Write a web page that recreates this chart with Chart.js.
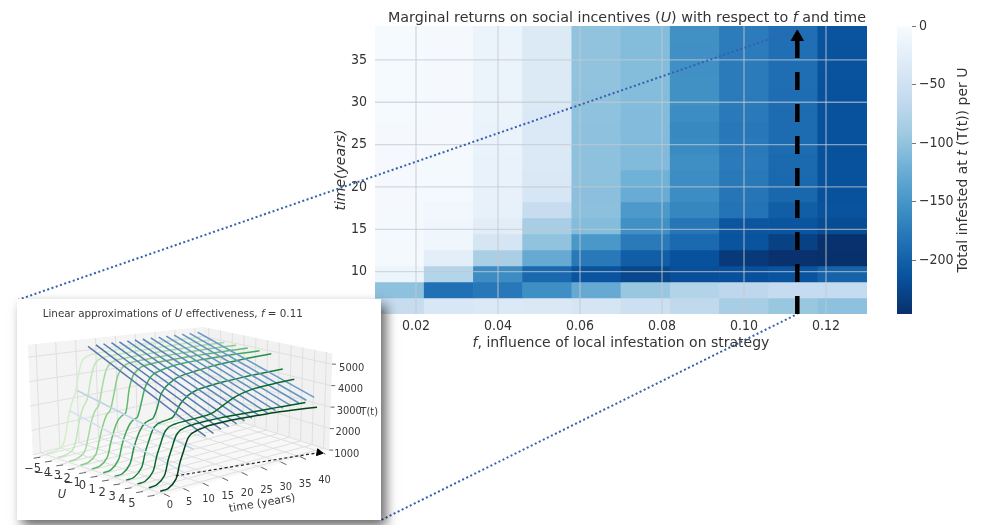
<!DOCTYPE html>
<html><head><meta charset="utf-8">
<script src="https://cdn.jsdelivr.net/npm/chart.js@4"></script>
<style>
html,body{margin:0;padding:0;background:#fff;width:983px;height:525px;overflow:hidden}
canvas{position:absolute;filter:blur(0.45px)}
#main{left:0;top:0}
#cbar{left:870px;top:0}
#inset{left:17px;top:299px;background:#fff;box-shadow:5px 6px 11px rgba(0,0,0,.6)}
</style></head><body>
<canvas id="main" width="983" height="525"></canvas>
<canvas id="cbar" width="113" height="525"></canvas>
<canvas id="inset" width="364" height="221"></canvas>
<script>
// ---------- heatmap data ----------
const fCenters=[0.016,0.028,0.04,0.052,0.064,0.076,0.088,0.1,0.112,0.124];
const tEdges=[5,6.89,8.78,10.67,12.56,14.44,16.33,18.22,20.11,22,23.89,25.78,27.67,29.56,31.44,33.33,35.22,37.11,39];
const row0=[-60,-38,-35,-36,-42,-52,-65,-85,-95,-102];
const row1=[-102,-185,-178,-157,-127,-95,-76,-68,-62,-62];
const row2=[-12,-75,-158,-193,-213,-225,-218,-216,-213,-198];
const row3=[-4,-25,-83,-127,-177,-203,-215,-238,-245,-246];
const row4=[-4,-10,-42,-100,-148,-176,-192,-213,-230,-244];
const row5=[-4,-9,-26,-85,-108,-156,-181,-210,-212,-220];
const row6=[-3,-7,-20,-60,-103,-146,-165,-183,-203,-214];
const row7=[-3,-4,-19,-41,-104,-125,-158,-180,-194,-215];
const row8=[-3,-4,-18,-36,-102,-120,-158,-177,-193,-215];
const row9=[-3,-4,-17,-35,-102,-110,-157,-175,-192,-215];
const row10=[-3,-3,-16,-35,-102,-110,-160,-176,-190,-215];
const row11=[-3,-3,-16,-34,-102,-109,-162,-178,-190,-215];
const row12=[-2,-3,-15,-34,-101,-109,-158,-176,-189,-215];
const row13=[-2,-3,-14,-33,-101,-108,-155,-175,-188,-215];
const row14=[-2,-3,-14,-33,-100,-108,-155,-175,-187,-215];
const row15=[-2,-3,-14,-33,-100,-108,-156,-175,-187,-214];
const row16=[-2,-3,-14,-33,-100,-108,-156,-174,-186,-214];
const row17=[-2,-3,-14,-33,-100,-108,-155,-174,-186,-213];
const heatRows=[row0,row1,row2,row3,row4,row5,row6,row7,row8,row9,row10,row11,row12,row13,row14,row15,row16,row17];
const xTicks=[0.02,0.04,0.06,0.08,0.10,0.12];
const yTicks=[10,15,20,25,30,35];
const colorTicks=[0,-50,-100,-150,-200];
const colorRange=[-246,0];
const arrowF=[0.113,0.113];
const arrowT=[5,37.3];
const arrowTip=[0.113,37.7];
const dottedUpperF=[-0.0772,0.113], dottedUpperT=[6.65,38.6];
const dottedLowerF=[0.0116,0.113], dottedLowerT=[-19.3,5];

// ---------- inset data ----------
const curveTimes=[0,2,4,5,6,7,8,9,10,11,12,13,14,16,18,20,25,30,35,40];
const curveM5=[1040,1050,1150,1500,2300,2900,3300,4100,4650,4800,4860,4880,4900,4920,4940,4960,5000,5040,5060,5080];
const curveM4=[1040,1050,1200,1650,2400,2880,3150,3950,4550,4780,4850,4880,4900,4920,4940,4960,5000,5030,5050,5070];
const curveM3=[1040,1055,1250,1750,2420,2850,3050,3800,4450,4740,4830,4870,4900,4920,4940,4960,5000,5030,5050,5060];
const curveM2=[1040,1060,1300,1850,2420,2820,3000,3650,4350,4650,4800,4850,4880,4910,4930,4950,4990,5020,5040,5050];
const curveM1=[1040,1060,1330,1900,2400,2750,2900,3000,4000,4500,4680,4800,4850,4890,4920,4940,4980,5000,5020,5030];
const curve0=[1040,1070,1400,1980,2420,2720,2880,2950,3500,4100,4420,4600,4680,4780,4850,4900,4960,4990,5010,5020];
const curveP1=[1050,1070,1380,1950,2400,2700,2880,2950,3000,3350,3900,4150,4300,4500,4600,4660,4800,4880,4950,5000];
const curveP2=[1050,1070,1370,1940,2390,2780,2950,3000,3030,3060,3100,3300,3600,3900,4050,4120,4230,4300,4350,4390];
const curveP3=[1050,1070,1360,1930,2380,2790,2960,3020,3050,3070,3080,3090,3100,3120,3150,3250,3700,3920,3990,4030];
const curveP4=[1050,1080,1350,1930,2380,2800,2970,3030,3070,3090,3110,3120,3130,3140,3150,3150,3130,3120,3100,3070];
const curveP5=[1060,1080,1350,1930,2380,2800,2980,3040,3090,3110,3150,3160,3170,3180,3190,3190,3170,3140,3080,3000];
const curveU=[-5,-4,-3,-2,-1,0,1,2,3,4,5];
const curves=[curveM5,curveM4,curveM3,curveM2,curveM1,curve0,curveP1,curveP2,curveP3,curveP4,curveP5];
const lineTimes=[6.4,8.5,11.6,13.6,15.5,17.5,19.5,21.5,23.4,25.4,27.4,29.4,31.3,33.3,35.3,37.2,39.2];
const lineStart=[2600,3400,5250,5280,5290,5300,5300,5300,5310,5310,5320,5320,5330,5330,5340,5340,5350];
const lineEnd=[1500,2350,2750,2800,2900,2950,3000,3050,3100,3130,3180,3220,3270,3310,3360,3420,3480];
const uTicks=[-5,-4,-3,-2,-1,0,1,2,3,4,5];
const timeTicks=[0,5,10,15,20,25,30,35,40];
const tValueTicks=[1000,2000,3000,4000,5000];
const insetArrowU=[3.16,5.45], insetArrowT=[9.4,39.5], insetArrowV=[1000,1000];

const greens=['#d3edcd','#c0e6b9','#a5dba0','#8ace88','#62bb6d','#3fa95c','#289049','#147e3a','#0a6b2d','#005a24','#00441b'];
const blues=['#d2e0ee','#bfd3e6','#5b7bab','#4f74a8','#5079ac','#5280b2','#5280b2','#5684b6','#5684b6','#5a89ba','#5a89ba','#5e8ebe','#5e8ebe','#6292c2','#6292c2','#6596c5','#6b9bc9'];

const FAM='"DejaVu Sans Condensed","DejaVu Sans",sans-serif';
const WIDE='"DejaVu Sans",sans-serif';
const TXT='#333333';
const blueStops=[[0,'247,251,255'],[.125,'222,235,247'],[.25,'198,219,239'],[.375,'158,202,225'],[.5,'107,174,214'],[.625,'66,146,198'],[.75,'33,113,181'],[.875,'8,81,156'],[1,'8,48,107']];
function blueColor(v){
  const t=Math.min(1,Math.max(0,-v/246));
  for(let i=1;i<blueStops.length;i++){
    if(t<=blueStops[i][0]){
      const a=blueStops[i-1],b=blueStops[i],k=(t-a[0])/(b[0]-a[0]);
      const pa=a[1].split(',').map(Number),pb=b[1].split(',').map(Number);
      return 'rgb('+pa.map((c,j)=>Math.round(c+(pb[j]-c)*k)).join(',')+')';
    }
  }
  return 'rgb(8,48,107)';
}
function fmtMinus(v){return v<0?'\u2212'+Math.abs(v):String(v);}
function drawRich(ctx,segs,x,y,size,rot,color,fam){
  const family=fam||WIDE;
  ctx.save();ctx.translate(x,y);ctx.rotate(rot||0);
  ctx.textBaseline='middle';ctx.textAlign='left';ctx.fillStyle=color||TXT;
  let w=0;
  for(const s of segs){ctx.font=(s[1]?'italic ':'')+size+'px '+family;w+=ctx.measureText(s[0]).width;}
  let cx=-w/2;
  for(const s of segs){ctx.font=(s[1]?'italic ':'')+size+'px '+family;ctx.fillText(s[0],cx,0);cx+=ctx.measureText(s[0]).width;}
  ctx.restore();
}

// ---------- main heatmap ----------
const cells=[];const cellColors=[];
heatRows.forEach((r,i)=>r.forEach((v,j)=>{
  cells.push({x:fCenters[j],y:[tEdges[i],tEdges[i+1]]});
  cellColors.push(blueColor(v));
}));
const gridCol='rgba(195,200,206,0.68)';
const mainDatasets=[{type:'bar',data:cells,backgroundColor:cellColors,borderWidth:0,barPercentage:1,categoryPercentage:1,order:5}];
xTicks.forEach(f=>mainDatasets.push({type:'line',data:[{x:f,y:5},{x:f,y:39}],borderColor:gridCol,borderWidth:1.3,pointRadius:0,order:4}));
yTicks.forEach(t=>mainDatasets.push({type:'line',data:[{x:0.01,y:t},{x:0.13,y:t}],borderColor:gridCol,borderWidth:1.3,pointRadius:0,order:4}));
mainDatasets.push({type:'line',data:dottedUpperF.map((f,i)=>({x:f,y:dottedUpperT[i]})),borderColor:'#3460ae',borderWidth:2,borderDash:[2,2.5],pointRadius:0,clip:false,order:2});
mainDatasets.push({type:'line',data:dottedLowerF.map((f,i)=>({x:f,y:dottedLowerT[i]})),borderColor:'#3460ae',borderWidth:2,borderDash:[2,2.5],pointRadius:0,clip:false,order:2});
mainDatasets.push({type:'line',data:arrowF.map((f,i)=>({x:f,y:arrowT[i]})),borderColor:'#000',borderWidth:4.5,borderDash:[18,14],pointRadius:0,clip:false,order:1});
mainDatasets.push({type:'line',data:[{x:arrowTip[0],y:arrowTip[1]}],showLine:false,pointStyle:'triangle',pointRadius:7,pointBackgroundColor:'#000',pointBorderColor:'#000',clip:false,order:1});

new Chart(document.getElementById('main'),{
  type:'bar',
  data:{datasets:mainDatasets},
  options:{
    responsive:false,animation:false,
    layout:{padding:{left:333,top:26,right:116,bottom:167}},
    plugins:{legend:{display:false},tooltip:{enabled:false}},
    scales:{
      x:{type:'linear',min:0.01,max:0.13,offset:false,grid:{display:false,offset:false,tickLength:0},border:{display:false},
        afterBuildTicks:s=>{s.ticks=xTicks.map(v=>({value:v}));},
        afterFit:s=>{s.height=44;},
        ticks:{callback:v=>Number(v).toFixed(2),color:TXT,font:{family:FAM,size:14},padding:4,maxRotation:0,autoSkip:false}},
      y:{type:'linear',min:5,max:39,grid:{display:false,tickLength:0},border:{display:false},
        afterBuildTicks:s=>{s.ticks=yTicks.map(v=>({value:v}));},
        afterFit:s=>{s.width=42;},
        title:{display:true,text:'time(years)',color:TXT,font:{family:WIDE,size:14,style:'italic'},padding:{top:0,bottom:0}},
        ticks:{color:TXT,font:{family:FAM,size:14},padding:8}}
    }
  },
  plugins:[{id:'mainText',afterDraw(c){
    const a=c.chartArea,m=(a.left+a.right)/2;
    drawRich(c.ctx,[['Marginal returns on social incentives (',0],['U',1],[') with respect to ',0],['f',1],[' and time',0]],m+6,18,14.3);
    drawRich(c.ctx,[['f',1],[', influence of local infestation on strategy',0]],m,343,14);
  }}]
});

// ---------- colour bar ----------
new Chart(document.getElementById('cbar'),{
  type:'bar',
  data:{labels:['colour'],datasets:[{data:[colorRange],barPercentage:1,categoryPercentage:1,borderWidth:0,
    backgroundColor(ctx){
      const a=ctx.chart.chartArea;if(!a)return '#6baed6';
      const g=ctx.chart.ctx.createLinearGradient(0,a.top,0,a.bottom);
      blueStops.forEach(s=>g.addColorStop(s[0],'rgb('+s[1]+')'));
      return g;
    }}]},
  options:{
    responsive:false,animation:false,
    layout:{padding:{left:27,top:26,right:0,bottom:211}},
    plugins:{legend:{display:false},tooltip:{enabled:false}},
    scales:{
      x:{display:false},
      y:{position:'right',min:colorRange[0],max:colorRange[1],border:{display:false},
        afterBuildTicks:s=>{s.ticks=colorTicks.map(v=>({value:v}));},
        afterFit:s=>{s.width=71;},
        grid:{drawOnChartArea:false,drawTicks:true,tickLength:4,color:'#777'},
        ticks:{callback:fmtMinus,color:TXT,font:{family:FAM,size:14},padding:3}}
    }
  },
  plugins:[{id:'cbText',afterDraw(c){
    drawRich(c.ctx,[['Total infested at ',0],['t',1],[' (T(t)) per U',0]],93,170,14,-Math.PI/2);
  }}]
});

// ---------- inset pseudo-3D view ----------
const cam={x:[28,157,203,333],y:[457,501,410,452],h:[25.6,28.3,19.3,22.5],lean:[-1.1,0,0,0.7]};
function project(U,t,T){
  const u=(U+5.5)/11,v=(t+2)/44;
  const mix=a=>a[0]*(1-u)*(1-v)+a[1]*u*(1-v)+a[2]*(1-u)*v+a[3]*u*v;
  const k=(T-1000)/1000;
  return {x:mix(cam.x)+mix(cam.lean)*k,y:mix(cam.y)-mix(cam.h)*k};
}
const insetSets=[];
const poly=(pts,fill)=>insetSets.push({data:pts.concat([pts[0]]),fill:'shape',backgroundColor:fill,borderWidth:0,borderColor:fill,pointRadius:0,order:30});
poly([project(-5.5,-2,1000),project(-5.5,42,1000),project(-5.5,42,5500),project(-5.5,-2,5500)],'#f4f4f4');
poly([project(-5.5,42,1000),project(5.5,42,1000),project(5.5,42,5500),project(-5.5,42,5500)],'#f1f1f1');
poly([project(-5.5,-2,1000),project(5.5,-2,1000),project(5.5,42,1000),project(-5.5,42,1000)],'#f8f8f8');
const seg=(a,b)=>insetSets.push({data:[a,b],borderColor:'#e0e0e0',borderWidth:1,pointRadius:0,order:29});
tValueTicks.forEach(T=>{seg(project(-5.5,-2,T),project(-5.5,42,T));seg(project(-5.5,42,T),project(5.5,42,T));});
timeTicks.forEach(t=>{seg(project(-5.5,t,1000),project(-5.5,t,5500));seg(project(-5.5,t,1000),project(5.5,t,1000));});
uTicks.forEach(U=>{seg(project(U,42,1000),project(U,42,5500));seg(project(U,-2,1000),project(U,42,1000));});
const tick=(a,b)=>insetSets.push({data:[a,b],borderColor:'#666',borderWidth:1,pointRadius:0,clip:false,order:28});
uTicks.forEach(U=>{const p=project(U,-2,1000);tick({x:p.x+2,y:p.y+0.5},{x:p.x-5,y:p.y+1.5});});
timeTicks.forEach(t=>{const p=project(5.5,t,1000);tick({x:p.x-2,y:p.y-1},{x:p.x+4,y:p.y+2});});
tValueTicks.forEach(T=>{const p=project(5.5,42,T);tick(p,{x:p.x+4,y:p.y});});
curves.forEach((c,i)=>insetSets.push({
  data:c.map((T,j)=>project(curveU[i],curveTimes[j],T)),
  borderColor:greens[i],borderWidth:1.5,pointRadius:0,tension:0.3,order:i>=8?5:20-i}));
lineTimes.forEach((t,i)=>insetSets.push({
  data:[project(-5,t,lineStart[i]),project(5,t,lineEnd[i])],
  borderColor:blues[i],borderWidth:1.5,pointRadius:0,order:10}));
insetSets.push({data:insetArrowU.map((U,i)=>project(U,insetArrowT[i],insetArrowV[i])),borderColor:'#222',borderWidth:1.2,borderDash:[3,2.5],pointRadius:0,order:4});
insetSets.push({data:[project(insetArrowU[1],insetArrowT[1],insetArrowV[1])],showLine:false,pointStyle:'triangle',rotation:100,pointRadius:4,pointBackgroundColor:'#000',pointBorderColor:'#000',order:3});

const uLabelLine=[[28,472],[130,508]];
const timeLabelLine=[[169,510],[328,484]];
const valueLabelLine=[[351,456],[356,366]];
function along(line,k){return [line[0][0]+(line[1][0]-line[0][0])*k,line[0][1]+(line[1][1]-line[0][1])*k];}
new Chart(document.getElementById('inset'),{
  type:'line',
  data:{datasets:insetSets},
  options:{
    responsive:false,animation:false,
    layout:{padding:0},
    plugins:{legend:{display:false},tooltip:{enabled:false}},
    scales:{x:{type:'linear',min:17,max:381,display:false},y:{type:'linear',min:299,max:520,reverse:true,display:false}}
  },
  plugins:[{id:'insetText',afterDraw(c){
    const sx=c.scales.x,sy=c.scales.y,ctx=c.ctx;
    const put=(segs,x,y,size,rot,fam)=>drawRich(ctx,segs,sx.getPixelForValue(x),sy.getPixelForValue(y),size,rot,'#3a3a3a',fam);
    put([['Linear approximations of ',0],['U',1],[' effectiveness, ',0],['f',1],[' = 0.11',0]],172,310,10.35,0);
    uTicks.forEach((U,i)=>{const p=along(uLabelLine,i/(uTicks.length-1));put([[fmtMinus(U),0]],p[0],p[1],11.5,0);});
    timeTicks.forEach((t,i)=>{const p=along(timeLabelLine,i/(timeTicks.length-1));put([[String(t),0]],p[0],p[1],11,0,FAM);});
    tValueTicks.forEach((T,i)=>{const p=along(valueLabelLine,i/(tValueTicks.length-1));put([[String(T),0]],p[0],p[1],11,0,FAM);});
    put([['T(t)',0]],374,412,11,0,FAM);
    put([['U',1]],58,499,11.5,0);
    put([['time (years)',0]],264,508,11,-0.17);
  }}]
});
</script>
</body></html>
